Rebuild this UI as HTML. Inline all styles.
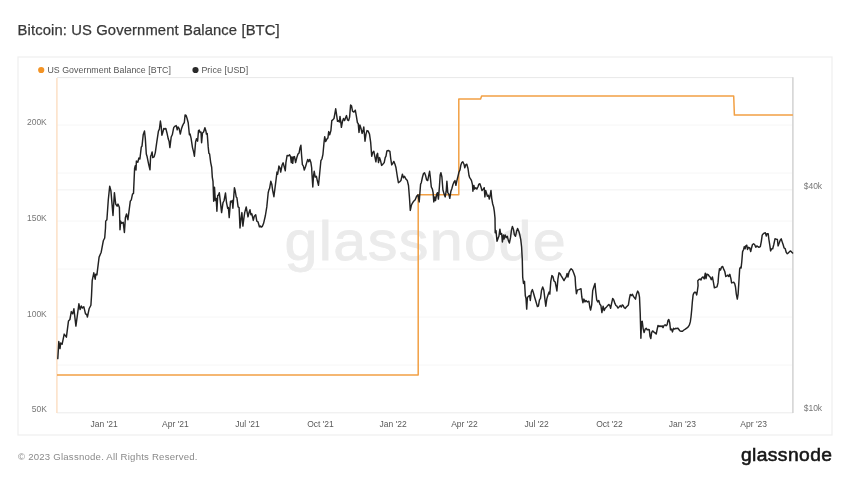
<!DOCTYPE html>
<html lang="en"><head><meta charset="utf-8"><title>Bitcoin: US Government Balance [BTC]</title>
<style>html,body{margin:0;padding:0;background:#fff}body{width:850px;height:478px;overflow:hidden}svg{display:block}</style></head>
<body>
<svg width="850" height="478" viewBox="0 0 850 478">
<rect width="850" height="478" fill="#fff"/>
<rect x="18" y="57" width="814" height="378" fill="#fff" stroke="#efefef" stroke-width="1.2"/>
<line x1="57" x2="793" y1="125" y2="125" stroke="#f6f6f6" stroke-width="1"/>
<line x1="57" x2="793" y1="173" y2="173" stroke="#f6f6f6" stroke-width="1"/>
<line x1="57" x2="793" y1="221" y2="221" stroke="#f6f6f6" stroke-width="1"/>
<line x1="57" x2="793" y1="269" y2="269" stroke="#f6f6f6" stroke-width="1"/>
<line x1="57" x2="793" y1="317" y2="317" stroke="#f6f6f6" stroke-width="1"/>
<line x1="57" x2="793" y1="365" y2="365" stroke="#f6f6f6" stroke-width="1"/>
<line x1="57" x2="793" y1="189.9" y2="189.9" stroke="#f1f1f1" stroke-width="1"/>
<text transform="translate(284.4 260.2) scale(1.07 1)" font-family="'Liberation Sans', sans-serif" font-size="55.4" letter-spacing="1.3" fill="#ebebeb" stroke="#ebebeb" stroke-width="0.8">glassnode</text>
<line x1="57" x2="793" y1="77.6" y2="77.6" stroke="#e8e8e8" stroke-width="1"/>
<line x1="57" x2="793" y1="412.8" y2="412.8" stroke="#ececec" stroke-width="1"/>
<line x1="792.9" x2="792.9" y1="77.2" y2="413" stroke="#d2d2d2" stroke-width="1.5"/>
<line x1="56.9" x2="56.9" y1="78" y2="413" stroke="#fce0c6" stroke-width="1.5"/>
<path d="M57.0 374.9 L418.2 374.9 L418.2 194.8 L458.8 194.8 L458.8 98.9 L480.6 98.9 L481.6 96.1 L733.7 96.1 L734.4 115.1 L792.9 115.1" fill="none" stroke="#f2a044" stroke-width="1.5" stroke-linejoin="round"/>
<path d="M57.8 358.6 L58.8 341.5 L60.0 348.6 L60.7 342.9 L62.1 344.3 L64.2 334.1 L66.4 337.2 L68.5 320.9 L69.9 319.5 L71.3 311.6 L72.7 313.8 L73.9 308.8 L75.9 326.1 L78.9 303.8 L80.1 309.5 L81.3 306.0 L82.4 308.1 L83.8 306.7 L85.5 313.8 L86.7 314.5 L87.4 317.0 L89.1 308.8 L90.9 305.2 L91.5 296.0 L92.2 280.6 L93.8 272.8 L95.2 279.2 L95.8 274.2 L96.9 274.9 L99.1 257.1 L101.2 252.2 L103.3 240.8 L104.7 238.0 L105.5 228.0 L105.7 221.1 L106.9 219.7 L108.3 199.8 L109.7 186.3 L110.9 190.6 L113.0 215.5 L114.4 192.7 L115.7 204.1 L117.1 206.2 L118.0 204.1 L119.4 207.6 L120.0 229.7 L120.7 221.1 L121.4 223.3 L123.2 222.3 L124.4 232.5 L125.4 217.6 L126.5 214.0 L127.9 219.7 L130.3 201.2 L131.3 199.8 L132.5 194.1 L133.5 193.4 L134.6 168.5 L135.3 165.7 L136.0 170.0 L136.4 161.1 L137.8 162.3 L138.9 158.0 L139.9 159.0 L141.3 146.9 L142.0 146.2 L143.2 134.8 L144.5 131.0 L145.3 138.4 L146.3 154.0 L147.0 156.2 L148.0 161.1 L148.9 165.4 L150.0 169.7 L150.6 156.2 L151.3 154.7 L152.1 151.9 L152.7 157.6 L154.1 156.9 L155.3 152.6 L156.7 142.7 L158.4 131.3 L159.4 129.1 L160.4 121.0 L161.2 126.3 L161.9 135.3 L162.9 132.0 L163.8 128.4 L164.8 129.1 L165.8 128.4 L166.9 132.7 L168.3 139.1 L169.1 141.2 L169.9 147.6 L171.2 137.0 L172.3 134.8 L173.7 127.7 L174.7 126.3 L176.2 125.6 L177.2 129.9 L178.0 127.0 L179.1 128.4 L180.3 134.1 L181.4 129.1 L182.6 125.6 L183.6 123.5 L184.3 122.7 L185.1 114.9 L186.1 115.4 L187.1 118.5 L188.2 122.7 L189.4 134.8 L190.1 134.1 L191.1 138.4 L192.5 147.6 L193.6 151.9 L194.4 156.2 L195.6 141.9 L196.5 138.7 L197.6 141.2 L198.5 130.6 L199.3 130.1 L200.0 132.4 L201.0 132.0 L201.6 142.7 L202.5 133.0 L203.6 132.0 L204.9 127.7 L206.0 131.3 L206.4 134.1 L207.2 133.4 L208.2 146.9 L208.9 153.3 L209.6 154.0 L210.7 162.6 L211.7 167.5 L212.3 177.1 L213.0 181.3 L213.7 201.2 L214.5 187.3 L215.3 200.5 L216.2 198.4 L216.9 211.2 L217.7 195.5 L218.4 195.3 L219.3 192.7 L220.3 201.2 L221.6 212.6 L223.0 202.7 L224.1 200.5 L225.5 193.0 L226.5 202.7 L227.7 208.3 L228.4 207.6 L229.2 217.6 L230.5 201.2 L231.5 201.9 L232.2 200.5 L232.9 208.3 L234.4 187.7 L235.2 190.6 L236.2 197.0 L236.9 197.7 L238.1 206.9 L239.1 207.6 L240.0 228.0 L240.9 219.7 L241.9 212.6 L242.9 226.1 L243.7 219.7 L244.7 212.6 L246.2 206.9 L247.2 212.6 L248.0 216.9 L249.0 212.6 L250.0 209.8 L250.9 214.7 L251.8 213.7 L253.3 220.4 L254.3 216.2 L255.7 214.7 L256.8 221.1 L258.0 221.8 L259.4 226.8 L260.4 226.1 L261.4 227.1 L262.5 226.1 L263.6 223.3 L265.4 215.5 L266.8 206.9 L268.2 192.7 L268.9 189.9 L269.6 188.4 L270.8 181.3 L271.8 184.2 L272.7 190.6 L273.9 196.7 L275.3 185.6 L277.0 172.1 L277.7 174.2 L278.9 166.0 L279.9 167.8 L280.7 172.1 L282.1 165.0 L283.1 162.8 L284.1 166.4 L285.3 170.7 L285.9 162.6 L287.1 155.5 L288.5 155.7 L289.6 154.7 L290.6 156.9 L291.3 162.6 L292.0 156.9 L292.7 163.3 L293.5 156.9 L294.5 156.6 L295.6 162.6 L297.0 156.9 L298.0 154.0 L299.1 152.9 L299.9 148.3 L300.9 145.2 L301.6 155.5 L302.4 164.7 L303.4 166.1 L304.3 170.0 L305.5 166.8 L306.7 162.6 L307.7 159.4 L308.7 161.8 L309.8 159.4 L310.9 162.6 L311.7 168.0 L311.8 171.3 L312.8 187.0 L313.5 176.3 L314.2 171.3 L315.2 177.0 L316.4 176.3 L317.3 180.6 L318.5 185.3 L319.6 174.2 L320.9 160.7 L321.9 159.0 L322.9 154.7 L324.0 142.7 L324.7 136.7 L325.7 141.5 L326.9 139.1 L327.9 138.1 L328.7 131.6 L329.7 134.8 L330.9 130.6 L331.8 120.6 L332.8 119.9 L334.0 118.5 L335.0 112.8 L335.7 108.8 L336.5 114.2 L337.5 121.3 L338.5 120.6 L339.4 122.0 L340.0 116.4 L340.7 121.3 L341.4 127.3 L342.5 121.3 L343.5 118.5 L344.6 120.6 L345.6 117.8 L346.5 115.6 L347.5 119.9 L348.6 120.6 L349.6 117.1 L350.6 105.0 L351.5 105.7 L352.5 111.1 L353.9 112.1 L355.3 110.2 L356.4 116.4 L357.4 122.7 L358.2 123.5 L359.0 132.4 L359.9 124.9 L361.0 128.4 L362.1 133.4 L363.1 130.6 L363.8 127.0 L365.0 141.2 L366.0 134.1 L367.0 130.6 L368.1 131.0 L369.5 134.1 L370.7 142.7 L371.7 156.2 L372.7 152.6 L373.8 151.2 L374.9 156.9 L375.9 161.8 L376.9 154.7 L377.6 153.3 L378.5 162.6 L379.5 157.6 L380.5 160.4 L381.6 165.4 L383.0 164.0 L384.2 162.6 L385.2 157.6 L386.0 156.2 L386.9 150.9 L388.3 150.5 L389.9 151.4 L390.7 158.5 L391.7 164.9 L392.7 163.5 L393.8 161.4 L395.0 164.2 L396.0 167.8 L397.4 177.0 L398.4 182.7 L399.5 182.0 L400.9 180.6 L402.4 174.2 L403.5 177.7 L404.5 176.3 L405.9 179.1 L407.3 180.6 L408.5 185.5 L409.5 198.3 L410.3 210.4 L411.3 205.5 L412.3 203.3 L413.7 201.2 L415.2 199.8 L416.6 196.2 L418.0 194.8 L419.2 201.9 L419.9 192.7 L420.6 184.1 L421.3 182.7 L422.5 177.0 L423.5 173.5 L424.5 172.7 L425.6 175.6 L426.6 179.9 L427.7 180.6 L428.7 175.6 L429.6 171.3 L430.3 177.0 L431.3 187.0 L432.4 189.1 L433.1 192.7 L433.8 201.9 L434.8 196.9 L435.5 200.5 L436.7 194.1 L437.5 192.7 L438.4 199.1 L439.4 187.0 L440.2 174.9 L440.9 172.7 L441.9 177.0 L442.9 189.8 L444.1 194.1 L445.2 196.9 L446.2 191.2 L446.9 181.3 L447.8 192.7 L448.8 194.1 L449.8 198.3 L450.9 191.2 L451.9 188.4 L452.9 184.8 L454.0 182.0 L455.0 180.6 L455.9 185.3 L456.9 180.6 L458.0 176.3 L459.0 172.0 L460.0 169.9 L460.9 164.9 L461.8 162.5 L462.8 161.7 L464.0 164.2 L464.8 167.8 L465.7 164.9 L466.8 164.2 L468.0 168.5 L469.0 175.6 L469.7 177.7 L470.7 179.1 L471.5 180.6 L472.5 184.8 L472.9 191.2 L473.9 185.5 L474.6 189.1 L475.8 187.7 L476.8 189.1 L477.9 187.0 L478.9 184.1 L479.9 183.8 L481.0 187.0 L482.0 190.5 L483.2 189.1 L484.2 187.7 L484.9 196.9 L485.7 190.5 L486.4 192.7 L487.4 196.2 L488.4 195.2 L489.3 199.1 L490.1 195.5 L491.0 190.5 L491.7 198.3 L492.7 204.0 L493.6 206.9 L494.3 211.1 L495.0 218.0 L495.2 232.7 L496.0 230.6 L497.0 241.3 L498.0 238.4 L498.9 236.3 L499.9 229.2 L500.6 234.2 L501.6 233.5 L502.4 242.0 L503.4 234.9 L504.1 239.1 L505.1 234.9 L506.3 237.7 L507.3 236.3 L508.4 240.6 L509.4 243.0 L510.5 237.7 L511.5 229.9 L512.4 226.4 L513.4 229.2 L514.4 234.9 L515.5 236.3 L516.6 231.3 L517.6 228.5 L518.8 231.3 L519.8 234.9 L520.8 239.9 L521.6 247.0 L522.3 259.8 L522.7 277.1 L523.5 283.5 L524.5 281.3 L525.3 295.5 L526.0 298.4 L526.7 309.1 L527.4 297.7 L528.4 296.3 L529.6 295.5 L530.3 300.5 L531.3 292.0 L532.4 289.6 L533.4 292.7 L534.8 297.7 L536.3 302.7 L537.4 306.6 L538.4 306.2 L539.5 299.8 L540.5 298.4 L541.5 290.6 L542.7 287.0 L543.8 289.9 L544.8 298.4 L545.8 306.2 L546.9 298.4 L548.1 294.8 L549.1 292.0 L549.8 294.1 L550.8 281.3 L551.9 275.6 L553.0 276.8 L554.0 281.0 L555.2 282.0 L556.2 287.0 L556.9 291.0 L557.9 279.2 L559.0 272.8 L560.0 273.5 L561.1 275.6 L562.6 278.2 L564.0 280.6 L565.1 278.5 L566.1 277.1 L567.1 273.5 L568.0 277.1 L569.0 272.1 L570.1 270.0 L571.1 268.8 L572.5 270.0 L573.9 273.5 L575.1 277.1 L575.6 285.6 L576.4 293.8 L577.5 289.9 L578.9 289.6 L580.0 289.1 L581.0 288.7 L581.8 297.0 L582.9 302.7 L583.9 299.1 L585.0 301.9 L586.0 300.5 L587.4 301.9 L588.9 301.2 L589.9 307.6 L590.6 310.0 L591.7 304.8 L592.7 290.6 L593.8 287.0 L595.0 283.5 L595.7 291.3 L596.7 299.8 L597.8 301.9 L598.8 300.5 L599.8 304.1 L600.9 305.5 L601.9 312.6 L603.1 306.2 L604.2 310.5 L605.2 308.3 L606.6 306.9 L607.8 305.5 L608.8 304.4 L609.8 305.5 L610.6 308.3 L611.6 303.4 L612.7 298.4 L613.7 299.8 L614.9 303.4 L615.9 305.5 L616.9 306.2 L618.0 308.1 L619.1 306.9 L620.2 305.6 L621.3 307.0 L622.3 304.9 L623.2 305.6 L624.2 307.7 L625.3 308.4 L626.3 307.0 L627.4 305.9 L628.4 304.9 L629.4 298.5 L630.3 294.5 L631.3 295.6 L632.4 294.2 L633.4 296.4 L634.5 297.8 L635.5 299.2 L636.5 294.2 L637.7 291.1 L638.7 292.8 L639.5 297.1 L640.2 312.7 L640.9 338.3 L641.5 321.9 L642.2 321.2 L643.1 328.3 L644.1 332.6 L645.2 329.1 L646.2 328.3 L647.2 329.8 L648.3 329.5 L649.3 329.8 L650.0 336.2 L650.8 338.6 L651.6 332.6 L652.6 330.9 L653.7 331.9 L655.0 332.9 L656.2 334.0 L657.2 329.1 L658.0 325.5 L659.0 326.6 L660.0 325.8 L661.1 326.6 L662.1 325.8 L663.0 327.6 L664.0 325.5 L665.1 324.8 L666.1 325.8 L667.1 324.8 L668.0 320.5 L668.8 319.5 L669.7 322.7 L670.5 329.8 L671.5 329.1 L672.5 331.9 L673.5 328.3 L674.6 329.1 L675.8 328.3 L676.8 328.6 L677.9 328.1 L678.9 329.5 L679.9 330.9 L681.0 331.2 L682.5 331.2 L683.9 330.0 L685.3 329.1 L686.7 328.1 L688.2 326.9 L689.3 325.2 L690.3 321.9 L691.0 317.0 L691.7 309.9 L692.4 301.3 L693.1 294.9 L693.8 293.1 L695.0 292.1 L696.0 292.8 L696.7 294.9 L697.4 290.7 L698.1 285.7 L697.8 280.7 L699.2 279.3 L700.2 278.9 L701.0 280.0 L702.0 277.5 L703.0 276.9 L704.2 278.9 L705.3 273.2 L706.0 278.6 L707.0 274.1 L708.2 274.6 L709.1 276.0 L710.3 277.2 L711.3 279.7 L712.4 276.9 L713.4 282.2 L714.4 287.8 L715.5 287.4 L717.0 286.9 L718.0 282.9 L718.7 274.3 L719.5 268.7 L720.5 270.1 L721.5 267.2 L722.7 266.5 L723.8 269.4 L724.8 271.5 L725.8 276.5 L726.9 275.8 L727.9 275.1 L728.8 276.5 L729.8 274.3 L730.9 278.6 L731.6 282.9 L732.6 282.6 L733.7 282.2 L734.7 283.6 L735.5 287.0 L736.3 294.1 L737.3 299.1 L738.1 294.1 L739.1 278.5 L739.7 268.7 L740.4 267.2 L741.1 267.9 L741.8 261.5 L742.6 251.6 L743.6 249.5 L744.3 246.6 L745.1 248.7 L745.8 245.9 L746.8 245.2 L747.5 249.5 L748.5 247.3 L749.7 248.0 L750.7 251.6 L751.5 248.0 L752.5 244.5 L753.6 243.8 L754.6 244.5 L755.8 247.3 L756.8 245.9 L757.9 246.6 L758.9 247.3 L760.3 246.6 L761.3 241.6 L762.2 235.2 L763.2 233.8 L764.2 233.1 L765.3 232.8 L766.3 236.0 L767.0 233.8 L768.2 233.8 L768.9 239.5 L769.9 245.9 L770.6 250.9 L771.7 248.7 L772.7 248.7 L773.8 244.5 L775.0 238.8 L776.0 239.1 L777.4 239.5 L778.1 245.9 L779.2 243.1 L780.2 240.2 L781.2 238.8 L782.1 241.6 L783.1 244.5 L784.1 248.0 L785.2 248.7 L786.2 252.3 L787.3 253.7 L788.3 253.0 L789.5 251.6 L790.6 250.9 L791.6 252.0 L792.6 253.0" fill="none" stroke="#222" stroke-width="1.45" stroke-linejoin="round" stroke-linecap="round"/>
<text x="17.6" y="35.4" font-family="'Liberation Sans', sans-serif" font-size="14.8" letter-spacing="0.11" fill="#383838" stroke="#383838" stroke-width="0.25">Bitcoin: US Government Balance [BTC]</text>
<circle cx="41.2" cy="70" r="3.1" fill="#f39324"/>
<text x="47.4" y="73.1" font-family="'Liberation Sans', sans-serif" font-size="8.8" letter-spacing="0.05" fill="#555">US Government Balance [BTC]</text>
<circle cx="195.5" cy="70" r="3.1" fill="#2a2a2a"/>
<text x="201.4" y="73.1" font-family="'Liberation Sans', sans-serif" font-size="8.8" letter-spacing="0.09" fill="#555">Price [USD]</text>
<text x="46.8" y="125.0" text-anchor="end" font-family="'Liberation Sans', sans-serif" font-size="8.5" fill="#777">200K</text>
<text x="46.8" y="221.0" text-anchor="end" font-family="'Liberation Sans', sans-serif" font-size="8.5" fill="#777">150K</text>
<text x="46.8" y="317.0" text-anchor="end" font-family="'Liberation Sans', sans-serif" font-size="8.5" fill="#777">100K</text>
<text x="46.8" y="411.70000000000005" text-anchor="end" font-family="'Liberation Sans', sans-serif" font-size="8.5" fill="#777">50K</text>
<text x="803.7" y="188.5" font-family="'Liberation Sans', sans-serif" font-size="8.5" fill="#777">$40k</text>
<text x="803.7" y="411.40000000000003" font-family="'Liberation Sans', sans-serif" font-size="8.5" fill="#777">$10k</text>
<text x="104.1" y="427" text-anchor="middle" font-family="'Liberation Sans', sans-serif" font-size="8.5" fill="#5a5a5a">Jan '21</text>
<text x="175.4" y="427" text-anchor="middle" font-family="'Liberation Sans', sans-serif" font-size="8.5" fill="#5a5a5a">Apr '21</text>
<text x="247.5" y="427" text-anchor="middle" font-family="'Liberation Sans', sans-serif" font-size="8.5" fill="#5a5a5a">Jul '21</text>
<text x="320.5" y="427" text-anchor="middle" font-family="'Liberation Sans', sans-serif" font-size="8.5" fill="#5a5a5a">Oct '21</text>
<text x="393.2" y="427" text-anchor="middle" font-family="'Liberation Sans', sans-serif" font-size="8.5" fill="#5a5a5a">Jan '22</text>
<text x="464.5" y="427" text-anchor="middle" font-family="'Liberation Sans', sans-serif" font-size="8.5" fill="#5a5a5a">Apr '22</text>
<text x="536.6" y="427" text-anchor="middle" font-family="'Liberation Sans', sans-serif" font-size="8.5" fill="#5a5a5a">Jul '22</text>
<text x="609.5" y="427" text-anchor="middle" font-family="'Liberation Sans', sans-serif" font-size="8.5" fill="#5a5a5a">Oct '22</text>
<text x="682.4" y="427" text-anchor="middle" font-family="'Liberation Sans', sans-serif" font-size="8.5" fill="#5a5a5a">Jan '23</text>
<text x="753.7" y="427" text-anchor="middle" font-family="'Liberation Sans', sans-serif" font-size="8.5" fill="#5a5a5a">Apr '23</text>
<text x="18" y="459.9" font-family="'Liberation Sans', sans-serif" font-size="9.6" letter-spacing="0.22" fill="#8a8a8a">© 2023 Glassnode. All Rights Reserved.</text>
<text transform="translate(740.9 460.8) scale(1.07 1)" font-family="'Liberation Sans', sans-serif" font-size="18" letter-spacing="0.39" fill="#161616" stroke="#161616" stroke-width="0.55">glassnode</text>
</svg>
</body></html>
